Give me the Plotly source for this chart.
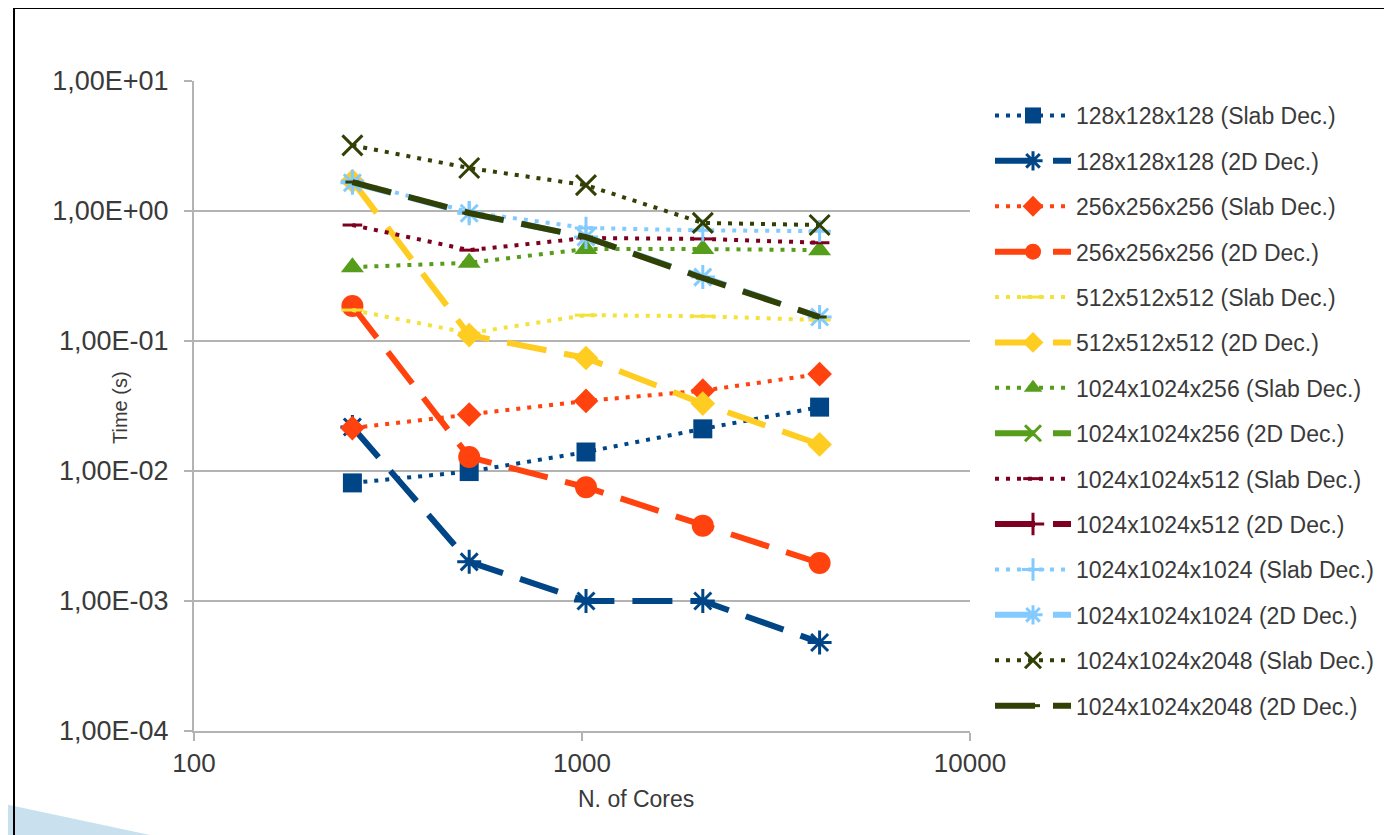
import plotly.graph_objects as go

cores = [256, 512, 1024, 2048, 4096]

names = [
    "128x128x128 (Slab Dec.)", "128x128x128 (2D Dec.)",
    "256x256x256 (Slab Dec.)", "256x256x256 (2D Dec.)",
    "512x512x512 (Slab Dec.)", "512x512x512 (2D Dec.)",
    "1024x1024x256 (Slab Dec.)", "1024x1024x256 (2D Dec.)",
    "1024x1024x512 (Slab Dec.)", "1024x1024x512 (2D Dec.)",
    "1024x1024x1024 (Slab Dec.)", "1024x1024x1024 (2D Dec.)",
    "1024x1024x2048 (Slab Dec.)", "1024x1024x2048 (2D Dec.)",
]

t_128_slab = [0.0081, 0.0099, 0.0140, 0.0211, 0.0310]
t_128_2d = [0.0218, 0.0020, 0.0010, 0.0010, 0.00048]
t_256_slab = [0.0214, 0.0272, 0.0346, 0.0415, 0.0557]
t_256_2d = [0.186, 0.0128, 0.0075, 0.0038, 0.00196]
t_512_slab = [0.173, 0.115, 0.158, 0.155, 0.145]
t_512_2d = [1.70, 0.111, 0.074, 0.033, 0.0160]
t_1024_256_slab = [0.37, 0.40, 0.51, 0.51, 0.50]
t_1024_256_2d = [None, None, None, None, None]
t_1024_512_slab = [0.78, 0.50, 0.62, 0.61, 0.57]
t_1024_512_2d = [None, None, None, None, None]
t_1024_1024_slab = [1.70, 0.98, 0.74, 0.71, 0.70]
t_1024_1024_2d = [1.65, 0.96, 0.63, 0.31, 0.153]
t_1024_2048_slab = [3.20, 2.14, 1.58, 0.81, 0.78]
t_1024_2048_2d = [1.67, 0.965, 0.63, 0.305, 0.153]

values = [t_128_slab, t_128_2d, t_256_slab, t_256_2d, t_512_slab, t_512_2d,
          t_1024_256_slab, t_1024_256_2d, t_1024_512_slab, t_1024_512_2d,
          t_1024_1024_slab, t_1024_1024_2d, t_1024_2048_slab, t_1024_2048_2d]

colors = ["#004586", "#004586", "#ff420e", "#ff420e", "#f3e23a", "#ffcc22",
          "#579d1c", "#579d1c", "#7e0021", "#7e0021", "#83caff", "#83caff",
          "#314004", "#314004"]
symbols = ["square", "asterisk-open", "diamond", "circle", "line-ew-open", "diamond",
           "triangle-up", "x-thin-open", "line-ew-open", "cross-thin-open",
           "cross-thin-open", "asterisk-open", "x-thin-open", "line-ew-open"]
sizes = [19, 20, 19, 22, 16, 19, 20, 16, 14, 16, 16, 20, 20, 10]

SLAB_DASH = "4px,7px"
TWO_D_DASH = "40px,18px"

y_ticks = [1e-4, 1e-3, 1e-2, 1e-1, 1, 10]
y_tick_text = ["1,00E-04", "1,00E-03", "1,00E-02", "1,00E-01", "1,00E+00", "1,00E+01"]
x_ticks = [100, 1000, 10000]
x_tick_text = ["100", "1000", "10000"]

FONT = "Liberation Sans, Arial, sans-serif"
TXT = "#3a3a3a"

# target plot area in screen pixels; the page body adds an 8px offset
OFF = 8
L, R, T, B = 194, 970, 81, 731
W, H = 1392 - OFF, 835 - OFF


def px(x):
    return (x - L) / (R - L)


def py(y):
    return (B - y) / (B - T)


fig = go.Figure()
for i, (nm, vals) in enumerate(zip(names, values)):
    slab = i % 2 == 0
    fig.add_trace(go.Scatter(
        x=cores, y=vals, name=nm, mode="lines+markers",
        legendgroup=f"g{i}",
        line=dict(color=colors[i], width=4 if slab else 6,
                  dash=SLAB_DASH if slab else TWO_D_DASH),
        marker=dict(symbol=symbols[i], size=sizes[i], color=colors[i],
                    line=dict(color=colors[i], width=3 if "open" in symbols[i] else 0)),
    ))

fig.update_layout(
    width=W, height=H,
    margin=dict(l=L - OFF, r=W + OFF - R, t=T - OFF, b=H + OFF - B),
    paper_bgcolor="white", plot_bgcolor="white",
    font=dict(family=FONT, color=TXT),
    showlegend=True,
    legend=dict(x=px(990), y=py(94), xanchor="left", yanchor="top",
                font=dict(size=23, family=FONT, color=TXT),
                tracegroupgap=12.5, itemwidth=76, bgcolor="rgba(0,0,0,0)"),
    xaxis=dict(type="log", range=[2, 4], tickvals=x_ticks, ticktext=x_tick_text,
               showgrid=False, showline=True, linecolor="#b3b3b3", linewidth=2,
               ticks="outside", ticklen=8, tickcolor="#b3b3b3", tickwidth=1.5,
               tickfont=dict(size=26, family=FONT, color=TXT), zeroline=False),
    yaxis=dict(type="log", range=[-4, 1], tickvals=y_ticks, ticktext=y_tick_text,
               showgrid=True, gridcolor="#b3b3b3", gridwidth=2,
               showline=True, linecolor="#b3b3b3", linewidth=2,
               ticks="outside", ticklen=8, tickcolor="#b3b3b3", tickwidth=1.5,
               ticklabelstandoff=10,
               tickfont=dict(size=27, family=FONT, color=TXT), zeroline=False),
    annotations=[
        dict(text="Time (s)", x=px(120), y=py(408), xref="paper", yref="paper",
             xanchor="center", yanchor="middle",
             showarrow=False, textangle=-90, font=dict(size=20, family=FONT, color=TXT)),
        dict(text="N. of Cores", x=px(636), y=py(799), xref="paper", yref="paper",
             xanchor="center", yanchor="middle",
             showarrow=False, font=dict(size=23, family=FONT, color=TXT)),
    ],
    shapes=[
        dict(type="path", xref="paper", yref="paper",
             path=f"M {px(0)} {py(803)} L {px(150)} {py(835)} L {px(0)} {py(835)} Z",
             fillcolor="#c9e0ee", line=dict(width=0), layer="below"),
        dict(type="line", xref="paper", yref="paper", x0=px(14), x1=px(14),
             y0=py(835), y1=py(8), line=dict(color="black", width=2)),
        dict(type="line", xref="paper", yref="paper", x0=px(14), x1=px(1392),
             y0=py(8), y1=py(8), line=dict(color="black", width=2)),
    ],
)

fig.write_html("out.html")
